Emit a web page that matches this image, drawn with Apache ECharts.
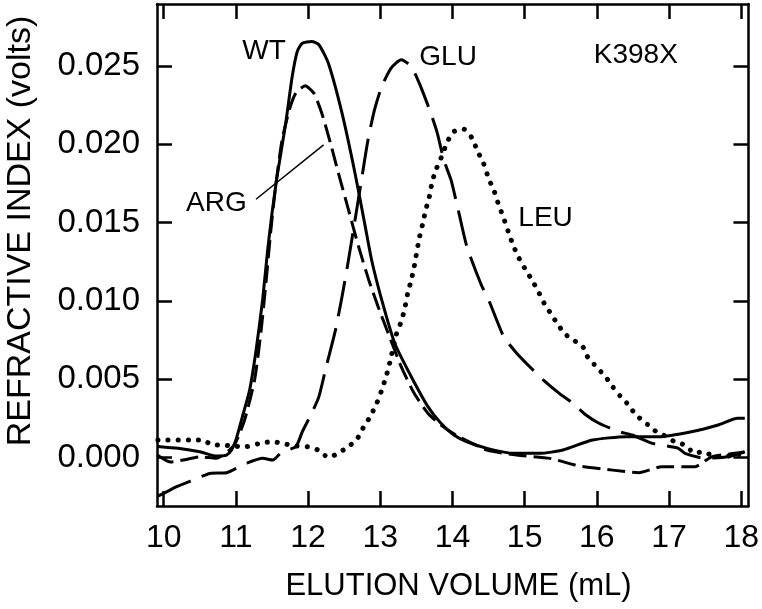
<!DOCTYPE html>
<html>
<head>
<meta charset="utf-8">
<script src="https://cdn.jsdelivr.net/npm/echarts@6/dist/echarts.min.js"></script>
<style>html,body{margin:0;padding:0;background:#fff;}#c{width:762px;height:609px;}</style>
</head>
<body>
<div id="c"></div>
<script>
// Tick values
const xTicks = [10, 11, 12, 13, 14, 15, 16, 17, 18];
const yTicks = [0, 0.005, 0.010, 0.015, 0.020, 0.025];

// Series data: [elution volume (mL), refractive index (volts)]
const wt = [
  [9.92,0.00072],[10.20,0.00060],[10.50,0.00038],[10.73,0.00011],[10.87,0.00017],[10.94,0.00049],
  [11.00,0.00113],[11.09,0.00262],[11.19,0.00432],[11.28,0.00688],[11.37,0.01007],[11.44,0.01326],
  [11.50,0.01560],[11.57,0.01794],[11.69,0.02135],[11.78,0.02433],[11.85,0.02593],[11.92,0.02646],
  [12.05,0.02657],[12.15,0.02636],[12.28,0.02519],[12.47,0.02199],[12.65,0.01816],[12.79,0.01480],
  [12.88,0.01262],[13.02,0.01007],[13.20,0.00731],[13.43,0.00517],[13.66,0.00326],[13.84,0.00220],
  [14.02,0.00145],[14.20,0.00102],[14.48,0.00060],[14.85,0.00028],[15.21,0.00028],[15.53,0.00049],
  [15.94,0.00113],[16.40,0.00134],[16.86,0.00134],[17.31,0.00166],[17.68,0.00209],[17.95,0.00252],
  [18.05,0.00252]
];
const arg = [
  [9.91,0.00017],[10.09,-0.00027],[10.27,-0.00015],[10.50,0.00006],[10.73,-0.00004],[10.91,0.00049],
  [11.00,0.00100],[11.12,0.00240],[11.26,0.00500],[11.35,0.00815],[11.42,0.01134],[11.48,0.01433],
  [11.55,0.01731],[11.64,0.02029],[11.74,0.02220],[11.83,0.02327],[11.96,0.02374],[12.08,0.02327],
  [12.19,0.02199],[12.31,0.02008],[12.42,0.01816],[12.56,0.01582],[12.70,0.01347],[12.84,0.01135],
  [12.97,0.00964],[13.11,0.00794],[13.29,0.00581],[13.47,0.00411],[13.66,0.00284],[13.84,0.00209],
  [14.07,0.00139],[14.48,0.00049],[14.89,0.00017],[15.35,-0.00004],[15.76,-0.00053],[16.22,-0.00079],
  [16.58,-0.00096],[16.90,-0.00057],[17.36,-0.00057],[17.59,0.00006],[17.91,0.00028],[18.04,0.00036]
];
const glu = [
  [9.92,-0.00245],[10.00,-0.00227],[10.18,-0.00185],[10.41,-0.00142],[10.64,-0.00100],[10.87,-0.00096],
  [11.05,-0.00057],[11.14,-0.00036],[11.37,-0.00004],[11.51,-0.00015],[11.64,0.00038],[11.83,0.00070],
  [11.92,0.00166],[12.05,0.00284],[12.15,0.00390],[12.24,0.00560],[12.38,0.00816],[12.47,0.01028],
  [12.56,0.01263],[12.65,0.01518],[12.74,0.01773],[12.83,0.02029],[12.92,0.02220],[13.02,0.02369],
  [13.15,0.02487],[13.29,0.02540],[13.43,0.02497],[13.56,0.02369],[13.70,0.02199],[13.79,0.02072],
  [13.88,0.01901],[13.98,0.01773],[14.09,0.01561],[14.20,0.01347],[14.39,0.01114],[14.52,0.00986],
  [14.71,0.00773],[14.89,0.00667],[15.07,0.00581],[15.26,0.00496],[15.48,0.00411],[15.67,0.00347],
  [15.85,0.00273],[16.03,0.00220],[16.31,0.00166],[16.49,0.00145],[16.77,0.00092],[17.13,0.00060],
  [17.22,0.00028],[17.50,-0.00004],[17.82,0.00006],[18.05,0.00038]
];
const leu = [
  [9.92,0.00113],[10.54,0.00113],[10.68,0.00081],[10.80,0.00081],[10.95,0.00075],[11.12,0.00070],
  [11.37,0.00096],[11.51,0.00102],[11.69,0.00087],[11.83,0.00075],[11.99,0.00070],[12.14,0.00049],
  [12.28,0.00003],[12.40,0.00024],[12.54,0.00066],[12.67,0.00113],[12.76,0.00188],[12.86,0.00262],
  [12.95,0.00347],[13.02,0.00432],[13.08,0.00517],[13.13,0.00603],[13.22,0.00784],[13.29,0.00869],
  [13.34,0.00954],[13.38,0.01050],[13.43,0.01135],[13.47,0.01220],[13.54,0.01401],[13.59,0.01497],
  [13.63,0.01582],[13.68,0.01667],[13.72,0.01763],[13.78,0.01848],[13.86,0.01933],[13.93,0.02018],
  [14.02,0.02082],[14.16,0.02097],[14.27,0.02040],[14.35,0.01954],[14.43,0.01880],[14.50,0.01784],
  [14.58,0.01699],[14.64,0.01614],[14.71,0.01529],[14.78,0.01433],[14.84,0.01358],[14.91,0.01284],
  [15.00,0.01210],[15.10,0.01135],[15.19,0.01060],[15.27,0.00986],[15.36,0.00922],[15.45,0.00858],
  [15.55,0.00794],[15.67,0.00752],[15.80,0.00713],[15.87,0.00645],[16.00,0.00577],[16.12,0.00517],
  [16.22,0.00453],[16.33,0.00390],[16.44,0.00337],[16.54,0.00273],[16.66,0.00230],[16.79,0.00177],
  [16.92,0.00145],[17.08,0.00102],[17.22,0.00081],[17.36,0.00028],[17.46,0.00038],[17.59,0.00017],
  [17.72,0.00006],[17.91,0.00017],[18.05,0.00028]
];

const FONT = '"Liberation Sans", Arial, Helvetica, sans-serif';
const chart = echarts.init(document.getElementById('c'), null, {renderer: 'canvas'});

function baseX(pos, showLabel) {
  return {
    type: 'value', position: pos, min: 9.907, max: 18.1,
    axisLine: {show: true, onZero: false, lineStyle: {color: '#000', width: 2.5}},
    axisTick: {show: true, inside: true, length: 15, customValues: xTicks, lineStyle: {color: '#000', width: 2.5}},
    axisLabel: {show: showLabel, customValues: xTicks, fontSize: 32, fontFamily: FONT, color: '#000', margin: 16},
    splitLine: {show: false}
  };
}
function baseY(pos, showLabel) {
  return {
    type: 'value', position: pos, min: -0.00308, max: 0.02896,
    axisLine: {show: true, onZero: false, lineStyle: {color: '#000', width: 2.5}},
    axisTick: {show: true, inside: true, length: 15, customValues: yTicks, lineStyle: {color: '#000', width: 2.5}},
    axisLabel: {show: showLabel, customValues: yTicks, fontSize: 33, fontFamily: FONT, color: '#000', margin: 17,
      formatter: v => v.toFixed(3)},
    splitLine: {show: false}
  };
}

function curve(name, data, type, width, cap) {
  return {
    name, type: 'line', data, symbol: 'none', smooth: 0.2, xAxisIndex: 0, yAxisIndex: 0,
    lineStyle: {color: '#000', width, type, cap: cap || 'butt', join: 'round'},
    silent: true, z: 3
  };
}

const annoLabel = {show: true, position: 'inside', fontSize: 28, fontFamily: FONT, color: '#000', opacity: 1, textBorderWidth: 0};

chart.setOption({
  animation: false,
  backgroundColor: '#fff',
  grid: {left: 157, right: 8, top: 4, bottom: 103, containLabel: false},
  xAxis: [baseX('bottom', true), baseX('top', false)],
  yAxis: [baseY('left', true), baseY('right', false)],
  series: [
    curve('WT', wt, 'solid', 3),
    curve('ARG', arg, [18, 7], 3),
    curve('GLU', glu, [36, 12], 3),
    curve('LEU', leu, [0.1, 10], 5, 'round'),
    {
      name: 'ARG leader', type: 'line', symbol: 'none', silent: true,
      data: [[11.278, 0.0165], [12.215, 0.01997]],
      lineStyle: {color: '#000', width: 1.5}
    },
    {
      name: 'labels', type: 'scatter', symbolSize: 1, silent: true, z: 5,
      itemStyle: {color: 'rgba(0,0,0,0)', opacity: 1},
      label: annoLabel,
      data: [
        {value: [11.39, 0.02597], label: {formatter: 'WT'}},
        {value: [13.94, 0.02558], label: {formatter: 'GLU'}},
        {value: [16.54, 0.02571], label: {formatter: 'K398X'}},
        {value: [15.29, 0.01531], label: {formatter: 'LEU'}},
        {value: [10.73, 0.01626], label: {formatter: 'ARG'}}
      ]
    }
  ],
  graphic: [
    {type: 'text', x: 21, y: 231, rotation: Math.PI / 2,
      style: {text: 'REFRACTIVE INDEX (volts)', font: '34px ' + FONT, fill: '#000', textAlign: 'center', textVerticalAlign: 'middle'}},
    {type: 'text', x: 458.5, y: 586,
      style: {text: 'ELUTION VOLUME (mL)', font: '31px ' + FONT, fill: '#000', textAlign: 'center', textVerticalAlign: 'middle'}}
  ]
});
</script>
</body>
</html>
